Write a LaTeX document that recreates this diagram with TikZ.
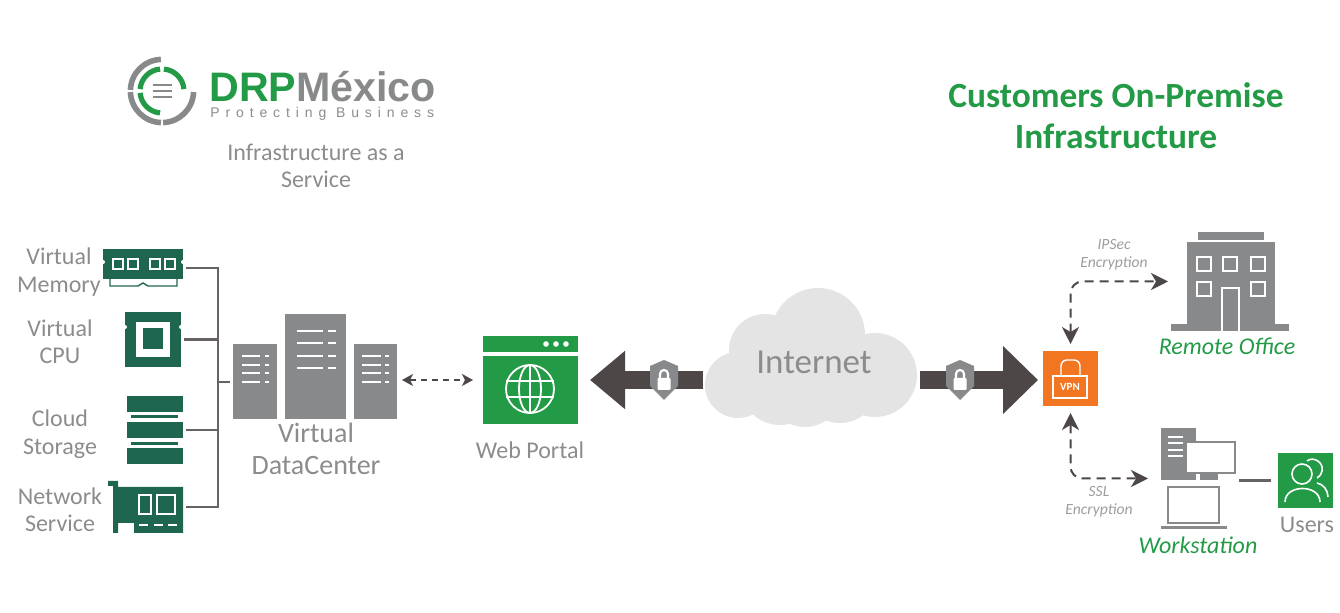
\documentclass[tikz,border=0pt]{standalone}
\usepackage{fontspec}
\setmainfont{Carlito}
\newfontfamily\logofont{Liberation Sans}
\usetikzlibrary{arrows.meta}
\usetikzlibrary{calc}
\definecolor{drpgreen}{HTML}{239B46}
\definecolor{drpteal}{HTML}{1F6650}
\definecolor{drpgray}{HTML}{88898A}
\definecolor{drptext}{HTML}{8C8C8C}
\definecolor{drpdark}{HTML}{4D4747}
\definecolor{drporange}{HTML}{F27522}
\definecolor{drpcloud}{HTML}{E4E4E4}
\tikzset{>=Stealth}
\tikzset{
    iconbox/.style={inner sep=0pt, outer sep=0pt, minimum width=#1},
    label/.style={text=drptext, align=center, inner sep=0pt, font=\fontsize{12}{13.75}\selectfont},
    biglabel/.style={label, font=\fontsize{14}{16}\selectfont},
    smallnote/.style={label, text=drptext!85, font=\fontsize{7.8}{9.2}\itshape\selectfont},
    sitename/.style={text=drpgreen, inner sep=0pt, font=\fontsize{12}{14}\itshape\selectfont},
    wire/.style={line width=1.1pt, draw=drpdark!85},
    dashlink/.style={{Stealth[length=8.5pt,width=8.5pt,inset=2.5pt]}-{Stealth[length=8.5pt,width=8.5pt,inset=2.5pt]}, line width=1pt, draw=drpdark, dash pattern=on 4.5pt off 3pt, rounded corners=6pt},
    shortlink/.style={{Stealth[length=5.5pt,width=6pt,inset=1.5pt]}-{Stealth[length=5.5pt,width=6pt,inset=1.5pt]}, line width=.8pt, draw=drpdark, dash pattern=on 3pt off 2.5pt},
    fatlink/.style={line width=9pt, draw=drpdark, -{Triangle[length=17.5pt,width=#1]}},
    whiteline/.style={line width=.9pt, draw=white},
    shieldlock/.pic={
        \fill[drpgray] (0,-20) -- (14,-14) -- (14,6) -- (0,20) -- (-14,6) -- (-14,-14) -- cycle;
        \fill[white, rounded corners=.5pt] (-6.5,-2) rectangle (6.5,10);
        \draw[white, line width=1.1pt] (-4,-2) -- (-4,-6) arc[start angle=180,end angle=0,radius=2pt] -- (4,-2);
    }
}

\begin{document}
\begin{tikzpicture}[x=.5pt, y=-.5pt]
    \useasboundingbox (0,0) rectangle (1340,613);

    % logo
    \coordinate (logoC) at (162,91);
    \foreach \a/\b in {92/178, 182/268, 272/358}
        \draw[drpgray, line width=2.8pt] (logoC) ++(\a:15.8pt) arc[start angle=\a,end angle=\b,radius=15.8pt];
    \foreach \a/\b in {95/175, 5/85, 185/265}
        \draw[drpgreen, line width=2.6pt] (logoC) ++(\a:11pt) arc[start angle=\a,end angle=\b,radius=11pt];
    \foreach \y in {85,91,97}
        \draw[drpgray, line width=1pt] (153,\y) -- (172,\y);
    \node[anchor=base west, inner sep=0pt, font=\fontsize{20.6}{22}\logofont\bfseries] (logoname) at (209,101.5) {\textcolor{drpgreen}{DRP}\textcolor{drpgray}{México}};
    \node[anchor=base west, inner sep=0pt, text=drptext, font=\fontsize{7}{8}\logofont\addfontfeature{LetterSpace=42}] (logotag) at (210,117.5) {Protecting Business};
    \node[label] (iaas) at (316,166) {Infrastructure as a\\Service};
    \node[inner sep=0pt, align=center, text=drpgreen, font=\fontsize{17.7}{20.5}\bfseries\selectfont] (premise) at (1116,116) {Customers On-Premise\\Infrastructure};

    % memory
    \node[iconbox=40pt, minimum height=19pt] (ram) at (143,268) {};
    \fill[drpteal] (103,249) rectangle (183,279);
    \fill[white] (103,262) circle (1pt) (183,262) circle (1pt);
    \draw[drpteal, line width=.7pt] (110,279) -- (110,286) -- (138,286) -- (143,283) -- (148,286) -- (177,286) -- (177,279);
    \foreach \x in {113,128,150,165}
        \draw[whiteline, line width=.7pt] (\x,259) rectangle (\x+10,269);
    \node[label] (memlabel) at (59,272) {Virtual\\Memory};

    % cpu
    \node[iconbox=28pt, minimum height=27.5pt, fill=drpteal] (cpu) at (153,339.5) {};
    \fill[white] (125,327) circle (1pt) (181,327) circle (1pt);
    \fill[white] (136,322) rectangle (170,357);
    \fill[drpteal] (143,328) rectangle (163,349);
    \node[label] (cpulabel) at (60,342) {Virtual\\CPU};

    % storage
    \node[iconbox=28pt, minimum height=34pt] (storage) at (155,430) {};
    \foreach \y in {396,422,448}
        \fill[drpteal] (127,\y) rectangle (183,\y+16);
    \foreach \y in {415,442}
        \fill[drpteal] (131,\y) rectangle (178,\y+3);
    \node[label] (storelabel) at (60,434) {Cloud\\Storage};

    % network card
    \node[iconbox=37.5pt, minimum height=26pt] (net) at (145.5,507) {};
    \fill[drpteal] (108,481) -- (118,481) -- (118,487) -- (183,487) -- (183,533) -- (134,533) -- (134,523) -- (118,523) -- (118,533) -- (113,533) -- (113,486) -- (108,486) -- cycle;
    \draw[whiteline, line width=.7pt] (139,495) rectangle (151,514);
    \draw[whiteline, line width=.7pt] (157,495) rectangle (175,514);
    \foreach \x in {139,154,168}
        \draw[whiteline] (\x,525) -- (\x+9,525);
    \node[label] (netlabel) at (60,510) {Network\\Service};

    % servers
    \node[iconbox=22pt, minimum height=37.5pt, fill=drpgray] (srvL) at (255,381.5) {};
    \node[iconbox=30.5pt, minimum height=52.5pt, fill=drpgray] (srvM) at (315.5,366.5) {};
    \node[iconbox=21.5pt, minimum height=37.5pt, fill=drpgray] (srvR) at (375.5,381.5) {};
    \foreach \y in {356,365,373,382} {
        \draw[whiteline] (242,\y) -- (260,\y) (265,\y) -- (269,\y);
        \draw[whiteline] (362,\y) -- (381,\y) (385,\y) -- (389,\y);
    }
    \foreach \y in {331,343,356,368}
        \draw[whiteline] (297,\y) -- (323,\y) (328,\y) -- (336,\y);
    \node[biglabel] (dclabel) at (316,449) {Virtual\\DataCenter};

    % bus
    \coordinate (bus) at (218,382);
    \draw[wire, shorten <=1.5pt] (ram.east) -| (bus);
    \draw[wire, shorten <=1.5pt] (net.east) -| (bus);
    \draw[wire, shorten <=1.5pt] (cpu.east) -- (cpu.east -| bus);
    \draw[wire, shorten <=1.5pt] (storage.east) -- (storage.east -| bus);
    \draw[wire, shorten >=1.5pt] (bus) -- (srvL.west |- bus);

    % web portal
    \node[iconbox=47.5pt, minimum height=44pt] (portal) at (530.5,380) {};
    \fill[drpgreen] (483,336) rectangle (578,352);
    \fill[drpgreen] (483,356) rectangle (578,424);
    \foreach \x in {546,556,566}
        \fill[white] (\x,344) circle (1.4pt);
    \begin{scope}[shift={(530,389)}, white, line width=.9pt]
        \draw (0,0) circle (12pt);
        \draw (0,0) ellipse (5.5pt and 12pt);
        \draw (-24,-8) -- (24,-8) (-24,8) -- (24,8) (0,-24) -- (0,24);
    \end{scope}
    \node[label] (portallabel) at (530,450) {Web Portal};

    % internet cloud
    \foreach \x/\y/\r in {818/335/47, 765/350/36, 875/375/42, 738/385/33, 805/390/37, 780/385/40, 840/385/38}
        \fill[drpcloud] (\x,\y) circle (\r*.5pt);
    \node[text=drptext, inner sep=0pt, font=\fontsize{17.5}{20}\selectfont] (internet) at (814,362) {Internet};
    \coordinate (cloudW) at (703,380);
    \coordinate (cloudE) at (920,380);

    % vpn
    \node[iconbox=27.5pt, minimum height=27.5pt, fill=drporange] (vpn) at (1070.5,378.5) {};
    \draw[white, line width=.7pt] (1053,376) rectangle (1087,398);
    \draw[white, line width=.7pt, rounded corners=3pt] (1061,376) -- (1061,360) -- (1080,360) -- (1080,376);
    \node[text=white, inner sep=0pt, font=\fontsize{5.5}{6}\bfseries\selectfont] (vpntext) at (1070,387) {VPN};

    \draw[fatlink=28pt, shorten >=6pt] (cloudW) -- (portal.east |- cloudW);
    \draw[fatlink=33pt, shorten >=2.5pt] (cloudE) -- (vpn.west |- cloudE);
    \pic at (664,380) {shieldlock};
    \pic at (960,380) {shieldlock};

    % remote office
    \node[iconbox=59pt, minimum height=49.5pt] (office) at (1230,281.5) {};
    \fill[drpgray] (1198,232) rectangle (1264,240);
    \fill[drpgray] (1187,242) rectangle (1275,324);
    \fill[drpgray] (1171,324) rectangle (1289,331);
    \foreach \x/\y in {1197/257, 1223/257, 1251/257, 1197/282, 1251/282}
        \draw[white, line width=1.2pt] (\x,\y) rectangle (\x+14,\y+14);
    \draw[white, line width=1.2pt] (1222,331) -- (1222,288) -- (1239,288) -- (1239,331);
    \node[sitename] (officelabel) at (1227,346) {Remote Office};

    % workstation
    \node[iconbox=37.5pt, minimum height=50.5pt] (station) at (1198.5,478.5) {};
    \fill[drpgray] (1161,428) rectangle (1196,480);
    \foreach \y in {437,443,450,456}
        \draw[whiteline] (1168,\y) -- (1183,\y);
    \fill[drpgray] (1200,470) rectangle (1218,480);
    \draw[drpgray, fill=white, line width=1.2pt] (1186,442) rectangle (1235,473);
    \draw[drpgray, line width=1.2pt] (1168,487) rectangle (1219,523);
    \fill[drpgray] (1161,526) rectangle (1227,529);
    \node[sitename] (stationlabel) at (1198,545) {Workstation};

    % users
    \node[iconbox=27.5pt, minimum height=27.5pt, fill=drpgreen] (users) at (1305.5,480.5) {};
    \begin{scope}[white, line width=.8pt]
        \draw (1302,474) circle (5pt);
        \draw (1285,502) .. controls (1285,484) and (1320,484) .. (1320,502);
        \draw (1307,461) .. controls (1313,456) and (1324,462) .. (1322,471) .. controls (1321,475) and (1319,477) .. (1317,478);
        \draw (1317,483) .. controls (1323,484) and (1328,490) .. (1328,497);
    \end{scope}
    \node[label] (userlabel) at (1307,525) {Users};
    \draw[wire, line width=1.5pt, shorten >=1.5pt, shorten <=3.5pt] (users.west) -- (station.east |- users.west);

    % links to the customer
    \draw[dashlink, shorten <=3.5pt, shorten >=1.5pt] (vpn.north) |- (office.west);
    \draw[dashlink, shorten <=3.5pt, shorten >=6.5pt] (vpn.south) |- (station.west);
    \draw[shortlink, shorten <=2.5pt, shorten >=5pt] (srvR.east |- portal.west) -- (portal.west);
    \node[smallnote] (ipsec) at (1114,255) {IPSec\\Encryption};
    \node[smallnote] (ssl) at (1099,502) {SSL\\Encryption};
\end{tikzpicture}
\end{document}
